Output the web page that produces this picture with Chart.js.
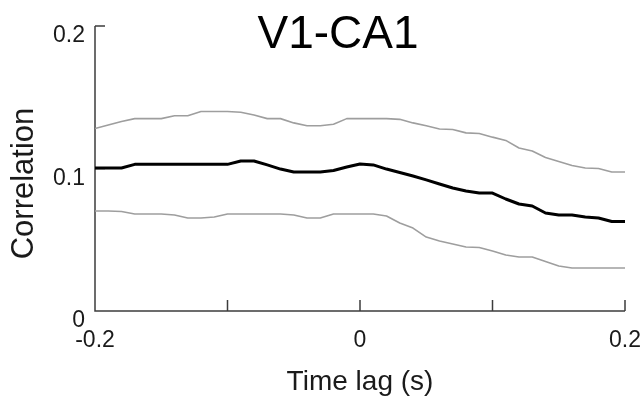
<!DOCTYPE html>
<html>
<head>
<meta charset="utf-8">
<script src="https://cdn.jsdelivr.net/npm/chart.js@4.4.1/dist/chart.umd.min.js"></script>
<style>
  html, body { margin: 0; padding: 0; background: #fff; }
  #wrap { width: 644px; height: 399px; }
</style>
</head>
<body>
<div id="wrap"><canvas id="c" width="644" height="399"></canvas></div>
<script>
// Time lag (s) between V1 and CA1 activity
const lags = [-0.20, -0.19, -0.18, -0.17, -0.16, -0.15, -0.14, -0.13, -0.12, -0.11,
              -0.10, -0.09, -0.08, -0.07, -0.06, -0.05, -0.04, -0.03, -0.02, -0.01,
               0.00,  0.01,  0.02,  0.03,  0.04,  0.05,  0.06,  0.07,  0.08,  0.09,
               0.10,  0.11,  0.12,  0.13,  0.14,  0.15,  0.16,  0.17,  0.18,  0.19, 0.20];

// Mean correlation at each lag
const meanCorr = [0.1004, 0.1004, 0.1004, 0.1029, 0.1029, 0.1029, 0.1029, 0.1029, 0.1029, 0.1029,
                  0.1029, 0.1053, 0.1053, 0.1025, 0.0996, 0.0975, 0.0975, 0.0975, 0.0986, 0.1010,
                  0.1032, 0.1025, 0.0996, 0.0972, 0.0947, 0.0920, 0.0891, 0.0863, 0.0842, 0.0828,
                  0.0828, 0.0786, 0.0751, 0.0737, 0.0688, 0.0674, 0.0674, 0.0660, 0.0653, 0.0628, 0.0628];

// Upper and lower bounds of the correlation band
const upperBound = [0.1280, 0.1305, 0.1330, 0.1350, 0.1350, 0.1350, 0.1370, 0.1370, 0.1400, 0.1400,
                    0.1400, 0.1395, 0.1375, 0.1350, 0.1350, 0.1320, 0.1300, 0.1300, 0.1310, 0.1350,
                    0.1350, 0.1350, 0.1350, 0.1345, 0.1320, 0.1300, 0.1277, 0.1274, 0.1250, 0.1246,
                    0.1220, 0.1197, 0.1144, 0.1123, 0.1077, 0.1049, 0.1021, 0.1004, 0.1000, 0.0975, 0.0975];

const lowerBound = [0.0702, 0.0702, 0.0698, 0.0681, 0.0681, 0.0681, 0.0674, 0.0653, 0.0653, 0.0660,
                    0.0681, 0.0681, 0.0681, 0.0681, 0.0681, 0.0674, 0.0653, 0.0653, 0.0681, 0.0681,
                    0.0681, 0.0681, 0.0667, 0.0618, 0.0582, 0.0519, 0.0491, 0.0470, 0.0449, 0.0446,
                    0.0421, 0.0393, 0.0379, 0.0379, 0.0347, 0.0316, 0.0302, 0.0302, 0.0302, 0.0302, 0.0302];

const xTickValues = [-0.2, -0.1, 0, 0.1, 0.2];
const xTickLabels = ['-0.2', '', '0', '', '0.2'];
const yTickValues = [0, 0.1, 0.2];
const yTickLabels = ['0', '0.1', '0.2'];

const FONT = '"Liberation Sans", Arial, Helvetica, sans-serif';
Chart.defaults.font.family = FONT;
Chart.defaults.color = '#1a1a1a';

const toPoints = vals => lags.map((x, i) => ({ x: x, y: vals[i] }));

// Axis frame with inward ticks, the chart title and the vertical axis title
const decor = {
  id: 'decor',
  beforeDatasetsDraw(chart) {
    const { ctx, chartArea: a, scales: { x, y } } = chart;
    ctx.save();
    ctx.strokeStyle = '#3c3c3c';
    ctx.lineWidth = 1.5;
    ctx.beginPath();
    ctx.moveTo(a.left, a.top);
    ctx.lineTo(a.left, a.bottom);
    ctx.lineTo(a.right, a.bottom);
    x.ticks.forEach(t => {
      const px = x.getPixelForValue(t.value);
      ctx.moveTo(px, a.bottom);
      ctx.lineTo(px, a.bottom - 11);
    });
    y.ticks.forEach(t => {
      if (t.value === 0) return;
      const py = y.getPixelForValue(t.value);
      ctx.moveTo(a.left, py);
      ctx.lineTo(a.left + 10, py);
    });
    ctx.stroke();
    ctx.restore();
  },
  afterDraw(chart) {
    const { ctx, chartArea: a } = chart;
    ctx.save();
    ctx.fillStyle = '#000';
    ctx.textAlign = 'center';
    ctx.textBaseline = 'alphabetic';
    ctx.font = '46px ' + FONT;
    ctx.fillText('V1-CA1', chart.width / 2 + 16, 48);

    ctx.fillStyle = '#1a1a1a';
    ctx.font = '31px ' + FONT;
    ctx.translate(33, (a.top + a.bottom) / 2 + 15);
    ctx.rotate(-Math.PI / 2);
    ctx.fillText('Correlation', 0, 0);
    ctx.restore();
  }
};

new Chart(document.getElementById('c'), {
  type: 'line',
  data: {
    datasets: [
      { label: 'Mean', data: toPoints(meanCorr), borderColor: '#000000', borderWidth: 3 },
      { label: 'Upper', data: toPoints(upperBound), borderColor: '#9e9e9e', borderWidth: 1.6 },
      { label: 'Lower', data: toPoints(lowerBound), borderColor: '#9e9e9e', borderWidth: 1.6 }
    ]
  },
  options: {
    responsive: false,
    animation: false,
    devicePixelRatio: 1,
    layout: { padding: { left: 0, right: 19, top: 26, bottom: 0 } },
    elements: {
      point: { radius: 0, hoverRadius: 0 },
      line: { tension: 0, fill: false, borderJoinStyle: 'round', borderCapStyle: 'butt' }
    },
    plugins: {
      legend: { display: false },
      tooltip: { enabled: false },
      title: { display: false }
    },
    scales: {
      x: {
        type: 'linear',
        min: -0.2,
        max: 0.2,
        grid: { display: false, drawTicks: false },
        border: { display: false },
        afterBuildTicks: s => { s.ticks = xTickValues.map(v => ({ value: v })); },
        afterFit: s => { s.height = 88; },
        ticks: {
          autoSkip: false,
          maxRotation: 0,
          padding: 0,
          font: { size: 23, lineHeight: 2.6 },
          callback: (v, i) => xTickLabels[i]
        },
        title: {
          display: true,
          text: 'Time lag (s)',
          font: { size: 28 },
          color: '#1a1a1a',
          padding: { top: 0, bottom: 0 }
        }
      },
      y: {
        type: 'linear',
        min: 0,
        max: 0.2,
        grid: { display: false, drawTicks: false },
        border: { display: false },
        afterBuildTicks: s => { s.ticks = yTickValues.map(v => ({ value: v })); },
        afterFit: s => { s.width = 95; },
        ticks: {
          autoSkip: false,
          padding: 10,
          labelOffset: 10,
          font: { size: 23 },
          callback: (v, i) => yTickLabels[i]
        }
      }
    }
  },
  plugins: [decor]
});
</script>
</body>
</html>
